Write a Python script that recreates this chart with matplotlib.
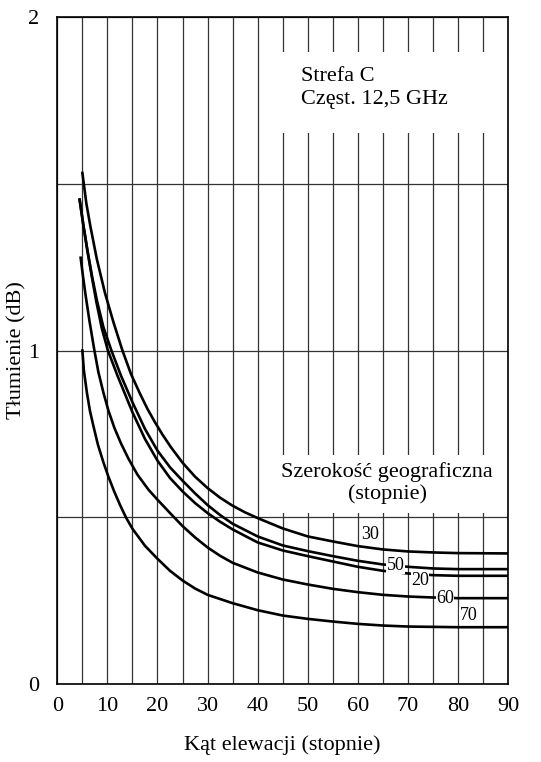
import numpy as np
import matplotlib
matplotlib.use('Agg')
import matplotlib.pyplot as plt
from matplotlib.patches import Rectangle

plt.rcParams['font.family'] = ['Liberation Serif', 'DejaVu Serif']

# elevation angle (deg) -> attenuation (dB), one curve per latitude
x30 = [5.0, 5.8, 6.6, 7.9, 9.5, 11.2, 13.0, 14.7, 16.4, 18.0, 19.5, 21.0, 22.7, 25, 27.5, 30, 32.5, 35,
       37.5, 40, 45, 50, 55, 60, 65, 70, 75, 80, 90]
y30 = [1.532, 1.44, 1.372, 1.273, 1.173, 1.085, 1.0, 0.93, 0.874, 0.825, 0.785, 0.748, 0.71, 0.664, 0.622,
       0.588, 0.559, 0.535, 0.515, 0.498, 0.467, 0.443, 0.428, 0.414, 0.404, 0.398, 0.395, 0.393, 0.392]

x50 = [4.45, 5.2, 6.0, 6.9, 7.9, 9.2, 10.8, 12.7, 15, 17.5, 20, 22.5, 25, 27.5, 30, 32.5, 35, 40, 45, 50,
       55, 60, 65, 70, 75, 80, 90]
y50 = [1.452, 1.375, 1.30, 1.225, 1.15, 1.07, 1.0, 0.925, 0.845, 0.765, 0.70, 0.65, 0.61, 0.572, 0.537,
       0.507, 0.481, 0.443, 0.416, 0.399, 0.384, 0.37, 0.359, 0.352, 0.347, 0.345, 0.345]

x20 = [4.45, 5.2, 6.0, 6.9, 7.8, 8.9, 10.1, 12, 15, 17.5, 20, 22.5, 25, 27.5, 30, 32.5, 35, 40, 45, 50,
       55, 60, 65, 70, 75, 80, 90]
y20 = [1.452, 1.375, 1.30, 1.22, 1.145, 1.065, 1.0, 0.925, 0.815, 0.735, 0.67, 0.618, 0.578, 0.543, 0.513,
       0.487, 0.464, 0.425, 0.401, 0.384, 0.368, 0.352, 0.34, 0.332, 0.327, 0.325, 0.325]

x60 = [4.65, 5.1, 5.6, 6.4, 7.4, 8.2, 9.2, 10.2, 11.4, 12.7, 14.2, 16.0, 18.2, 20, 22.7, 25, 27.5, 30, 32.5,
       35, 40, 45, 50, 55, 60, 65, 70, 75, 80, 90]
y60 = [1.278, 1.225, 1.17, 1.09, 1.0, 0.935, 0.874, 0.82, 0.768, 0.722, 0.676, 0.628, 0.583, 0.553, 0.51,
       0.474, 0.44, 0.41, 0.385, 0.364, 0.335, 0.314, 0.299, 0.286, 0.276, 0.268, 0.263, 0.26, 0.258, 0.258]

x70 = [5.0, 5.3, 5.9, 6.5, 7.2, 8.1, 9.2, 10.2, 11.4, 12.5, 13.7, 15, 17.5, 20, 22.5, 25, 27.5, 30, 35, 40,
       45, 50, 55, 60, 65, 70, 80, 90]
y70 = [1.0, 0.94, 0.874, 0.82, 0.774, 0.718, 0.665, 0.622, 0.576, 0.538, 0.50, 0.466, 0.415, 0.376, 0.34,
       0.311, 0.287, 0.268, 0.243, 0.222, 0.206, 0.196, 0.188, 0.181, 0.176, 0.173, 0.171, 0.171]

curves = [(x30, y30), (x50, y50), (x20, y20), (x60, y60), (x70, y70)]

# curve labels: text, x, y
lab_txt = ['30', '50', '20', '60', '70']
lab_x = [62.5, 67.5, 72.4, 77.4, 82.1]
lab_y = [0.449, 0.356, 0.312, 0.257, 0.206]

fig = plt.figure(figsize=(5.41, 7.62), dpi=100)
ax = fig.add_axes([0.106, 0.102, 0.833, 0.876])

ax.set_xlim(0, 90)
ax.set_ylim(0, 2)
ax.set_xticks(np.arange(0, 91, 10))
ax.set_xticks(np.arange(0, 91, 5), minor=True)
ax.set_yticks([0, 1, 2])
ax.set_yticks([0.5, 1.5], minor=True)
ax.set_axisbelow(True)
ax.grid(True, which='both', color='#333333', lw=0.9)
ax.tick_params(which='both', length=0, labelsize=16)
ax.tick_params(axis='x', pad=9)
ax.tick_params(axis='y', pad=13)
for s in ax.spines.values():
    s.set_linewidth(1.2)

# white boxes behind the annotations
ax.add_patch(Rectangle((44.7, 1.652), 45.3, 0.243, fc='white', ec='none', zorder=1))
ax.add_patch(Rectangle((43.5, 0.513), 46.5, 0.174, fc='white', ec='none', zorder=1))

for cx, cy in curves:
    ax.plot(cx, cy, color='black', lw=1.9, zorder=2, solid_joinstyle='round')

for t, tx, ty in zip(lab_txt, lab_x, lab_y):
    ax.text(tx, ty, t, fontsize=13, ha='center', va='center', zorder=4,
            bbox=dict(fc='white', ec='none', pad=0.3))

ax.text(48.6, 1.787, 'Strefa C\nCzęst. 12,5 GHz', fontsize=16, ha='left', va='center',
        linespacing=1.25, zorder=4)
ax.text(65.9, 0.603, 'Szerokość geograficzna\n(stopnie)', fontsize=16, ha='center', va='center',
        linespacing=1.1, zorder=4)

ax.set_xlabel('Kąt elewacji (stopnie)', fontsize=16, labelpad=14)
fig.text(0.032, 0.54, 'Tłumienie (dB)', fontsize=16, rotation=90, ha='center', va='center')

fig.savefig('out.png', dpi=100)
